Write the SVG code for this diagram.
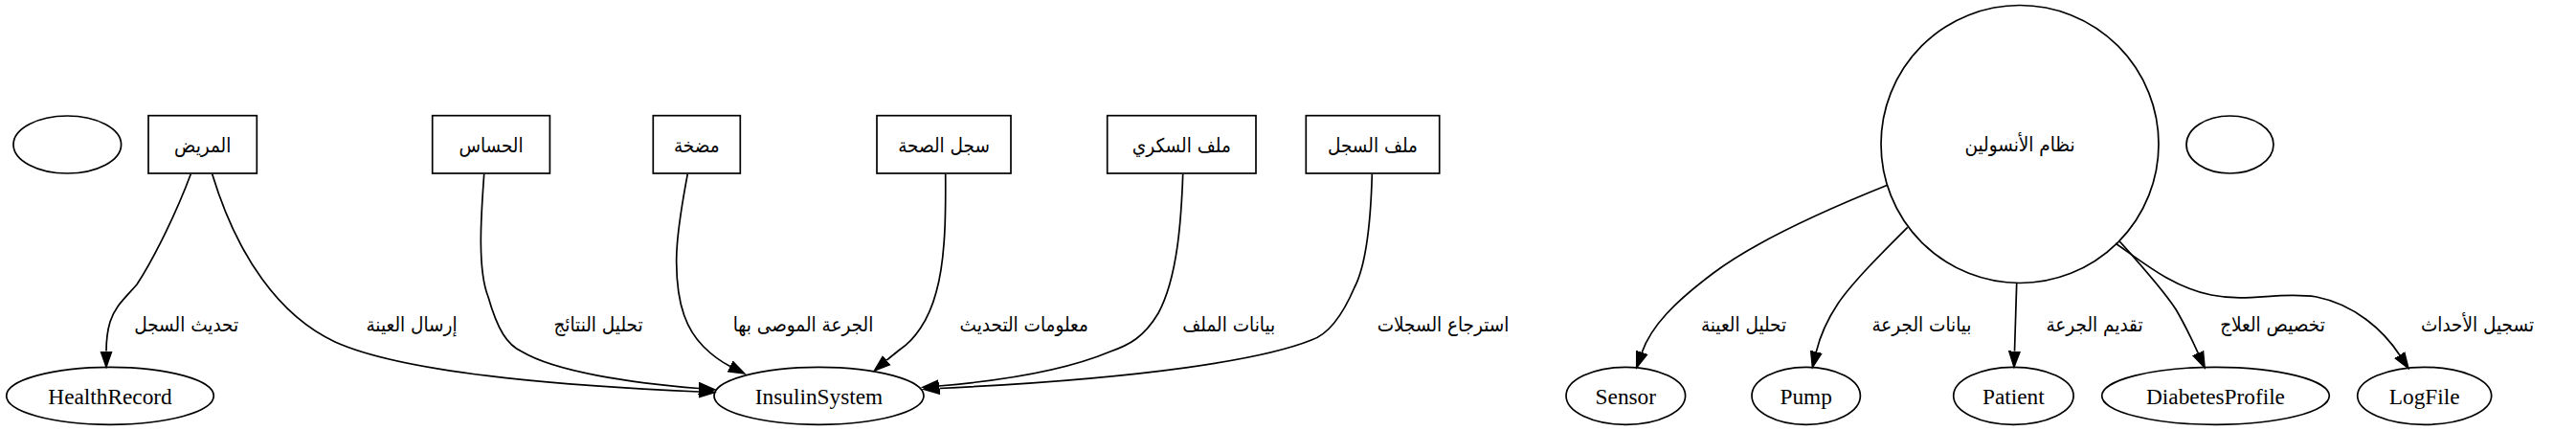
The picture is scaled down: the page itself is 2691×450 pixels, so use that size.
<svg xmlns="http://www.w3.org/2000/svg" width="2691" height="450" viewBox="0 0 2691 450">
<style>
.n{fill:none;stroke:#000;stroke-width:1.7}
.e{fill:none;stroke:#000;stroke-width:1.7;marker-end:url(#ah)}
text{font-family:"Liberation Serif","DejaVu Sans",serif;font-size:23.3px;fill:#000;text-anchor:middle}
text.ar{font-family:"DejaVu Sans Condensed","DejaVu Sans",sans-serif;font-size:20.5px}
</style>
<defs>
<marker id="ah" markerUnits="userSpaceOnUse" markerWidth="20" markerHeight="14" refX="0" refY="6" orient="auto" viewBox="0 0 20 12">
<path d="M0,0.2 L16.7,6 L0,11.8 Z" fill="#000" stroke="#000" stroke-width="1.5"/>
</marker>
</defs>
<rect width="2691" height="450" fill="#fff"/>
<g id="connectors">
<path class="e" d="M199.3,181.7 C185,220 162,268 143,297 C130,312 120,320 115,336 C112,346 111,356 111,366.6"/>
<path class="e" d="M221.7,181.7 C248,268 292,330 350,357 C430,393 620,404 730,409"/>
<path class="e" d="M505.7,181.7 C503,220 498,280 510,310 C520,345 530,360 545,367 C580,388 660,400 730,405.5"/>
<path class="e" d="M718.3,181.7 C712,215 706,250 706.7,275 C707,320 718,345 735,362 C744,371 752,377 762.8,382.5"/>
<path class="e" d="M987.7,181.7 C988,220 988,270 978,305 C970,335 955,355 940,365 C935,369 930,373 926.2,376.2"/>
<path class="e" d="M1235.7,181.7 C1234,230 1230,290 1210,327 C1195,352 1180,360 1160,367 C1110,388 1040,398 980.6,403"/>
<path class="e" d="M1433.3,181.7 C1432,230 1428,275 1415,300 C1400,335 1385,350 1370,355 C1320,375 1200,395 981.5,405.5"/>
<path class="e" d="M1971.7,193.3 C1900,222 1830,255 1790,285 C1750,315 1725,340 1715.2,368"/>
<path class="e" d="M1992.7,237.3 C1965,265 1935,295 1920,317 C1908,335 1901,352 1897.3,367.4"/>
<path class="e" d="M2106.7,295.7 L2104.5,366.6"/>
<path class="e" d="M2214,251.7 C2235,275 2260,303 2273,323 C2283,340 2290,355 2296.2,368.6"/>
<path class="e" d="M2210,254 C2240,275 2270,300 2310,308 C2350,316 2380,304 2420,310 C2460,318 2490,345 2506.8,370.7"/>
<text class="ar" x="194.7" y="345.5">تحديث السجل</text>
<text class="ar" x="430" y="345.5">إرسال العينة</text>
<text class="ar" x="625" y="345.5">تحليل النتائج</text>
<text class="ar" x="839" y="345.5">الجرعة الموصى بها</text>
<text class="ar" x="1069.7" y="345.5">معلومات التحديث</text>
<text class="ar" x="1283.7" y="345.5">بيانات الملف</text>
<text class="ar" x="1507.5" y="345.5">استرجاع السجلات</text>
<text class="ar" x="1821.5" y="345.5">تحليل العينة</text>
<text class="ar" x="2007.5" y="345.5">بيانات الجرعة</text>
<text class="ar" x="2188" y="345.5">تقديم الجرعة</text>
<text class="ar" x="2374" y="345.5">تخصيص العلاج</text>
<text class="ar" x="2588" y="345.5">تسجيل الأحداث</text>
</g>
<g id="empty-left"><ellipse class="n" cx="70.3" cy="151" rx="56.3" ry="30"/></g>
<g id="patient-ar"><rect class="n" x="155" y="120.7" width="113.3" height="60.3"/><text class="ar" x="211.7" y="158.5">المريض</text></g>
<g id="sensor-ar"><rect class="n" x="451.7" y="120.7" width="122.7" height="60.3"/><text class="ar" x="513" y="158.5">الحساس</text></g>
<g id="pump-ar"><rect class="n" x="682.3" y="120.7" width="91" height="60.3"/><text class="ar" x="727.8" y="158.5">مضخة</text></g>
<g id="healthrecord-ar"><rect class="n" x="916" y="120.7" width="140" height="60.3"/><text class="ar" x="986" y="158.5">سجل الصحة</text></g>
<g id="diabetes-ar"><rect class="n" x="1156.7" y="120.7" width="155.3" height="60.3"/><text class="ar" x="1234.3" y="158.5">ملف السكري</text></g>
<g id="logfile-ar"><rect class="n" x="1364.3" y="120.7" width="139.4" height="60.3"/><text class="ar" x="1434" y="158.5">ملف السجل</text></g>
<g id="HealthRecord"><ellipse class="n" cx="115" cy="413.3" rx="108.3" ry="30"/><text x="115" y="421.5">HealthRecord</text></g>
<g id="InsulinSystem"><ellipse class="n" cx="855.5" cy="413.3" rx="109.5" ry="30"/><text x="855.5" y="421.5">InsulinSystem</text></g>
<g id="insulin-ar"><circle class="n" cx="2110" cy="150.5" r="145"/><text class="ar" x="2110" y="158">نظام الأنسولين</text></g>
<g id="empty-right"><ellipse class="n" cx="2329.5" cy="151" rx="45.5" ry="30"/></g>
<g id="Sensor"><ellipse class="n" cx="1698.3" cy="413.3" rx="62.3" ry="30"/><text x="1698.3" y="421.5">Sensor</text></g>
<g id="Pump"><ellipse class="n" cx="1886.7" cy="413.3" rx="56.7" ry="30"/><text x="1886.7" y="421.5">Pump</text></g>
<g id="Patient"><ellipse class="n" cx="2103.4" cy="413.3" rx="62.7" ry="30"/><text x="2103.4" y="421.5">Patient</text></g>
<g id="DiabetesProfile"><ellipse class="n" cx="2314.5" cy="413.3" rx="118.8" ry="30"/><text x="2314.5" y="421.5">DiabetesProfile</text></g>
<g id="LogFile"><ellipse class="n" cx="2532.7" cy="413.3" rx="70" ry="30"/><text x="2532.7" y="421.5">LogFile</text></g>
</svg>
